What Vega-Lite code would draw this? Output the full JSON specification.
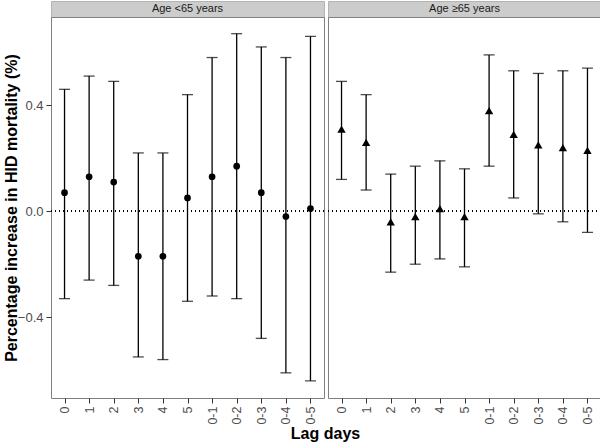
{
  "$schema": "https://vega.github.io/schema/vega-lite/v6.json",
  "padding": {"left": 2, "top": 0, "right": 2, "bottom": 2},
  "data": {"values": [
      {"panel": "Age <65 years", "lag": "0", "est": 0.07, "lower": -0.33, "upper": 0.46},
      {"panel": "Age <65 years", "lag": "1", "est": 0.13, "lower": -0.26, "upper": 0.51},
      {"panel": "Age <65 years", "lag": "2", "est": 0.11, "lower": -0.28, "upper": 0.49},
      {"panel": "Age <65 years", "lag": "3", "est": -0.17, "lower": -0.55, "upper": 0.22},
      {"panel": "Age <65 years", "lag": "4", "est": -0.17, "lower": -0.56, "upper": 0.22},
      {"panel": "Age <65 years", "lag": "5", "est": 0.05, "lower": -0.34, "upper": 0.44},
      {"panel": "Age <65 years", "lag": "0-1", "est": 0.13, "lower": -0.32, "upper": 0.58},
      {"panel": "Age <65 years", "lag": "0-2", "est": 0.17, "lower": -0.33, "upper": 0.67},
      {"panel": "Age <65 years", "lag": "0-3", "est": 0.07, "lower": -0.48, "upper": 0.62},
      {"panel": "Age <65 years", "lag": "0-4", "est": -0.02, "lower": -0.61, "upper": 0.58},
      {"panel": "Age <65 years", "lag": "0-5", "est": 0.01, "lower": -0.64, "upper": 0.66},
      {"panel": "Age ≥65 years", "lag": "0", "est": 0.31, "lower": 0.12, "upper": 0.49},
      {"panel": "Age ≥65 years", "lag": "1", "est": 0.26, "lower": 0.08, "upper": 0.44},
      {"panel": "Age ≥65 years", "lag": "2", "est": -0.04, "lower": -0.23, "upper": 0.14},
      {"panel": "Age ≥65 years", "lag": "3", "est": -0.02, "lower": -0.2, "upper": 0.17},
      {"panel": "Age ≥65 years", "lag": "4", "est": 0.01, "lower": -0.18, "upper": 0.19},
      {"panel": "Age ≥65 years", "lag": "5", "est": -0.02, "lower": -0.21, "upper": 0.16},
      {"panel": "Age ≥65 years", "lag": "0-1", "est": 0.38, "lower": 0.17, "upper": 0.59},
      {"panel": "Age ≥65 years", "lag": "0-2", "est": 0.29, "lower": 0.05, "upper": 0.53},
      {"panel": "Age ≥65 years", "lag": "0-3", "est": 0.25, "lower": -0.01, "upper": 0.52},
      {"panel": "Age ≥65 years", "lag": "0-4", "est": 0.24, "lower": -0.04, "upper": 0.53},
      {"panel": "Age ≥65 years", "lag": "0-5", "est": 0.23, "lower": -0.08, "upper": 0.54}
  ]},
  "columns": 2,
  "bounds": "flush",
  "spacing": {"row": 0, "column": 4},
  "concat": [
    {
      "width": 273, "height": 16,
      "transform": [{"filter": "datum.panel == 'Age <65 years'"}, {"aggregate": [{"op": "count", "as": "n"}], "groupby": ["panel"]}],
      "view": {"fill": "#cccccc", "stroke": "#b3b3b3"},
      "mark": {"type": "text", "fontSize": 11, "color": "#1a1a1a", "baseline": "middle"},
      "encoding": {"text": {"field": "panel", "type": "nominal"}}
    },
    {
      "width": 273, "height": 16,
      "transform": [{"filter": "datum.panel == 'Age ≥65 years'"}, {"aggregate": [{"op": "count", "as": "n"}], "groupby": ["panel"]}],
      "view": {"fill": "#cccccc", "stroke": "#b3b3b3"},
      "mark": {"type": "text", "fontSize": 11, "color": "#1a1a1a", "baseline": "middle"},
      "encoding": {"text": {"field": "panel", "type": "nominal"}}
    },
    {
      "width": 273, "height": 381,
      "transform": [{"filter": "datum.panel == 'Age <65 years'"}],
      "layer": [
        {
          "mark": {"type": "rule", "color": "black", "strokeWidth": 1.3},
          "encoding": {
            "x": {"field": "lag", "type": "ordinal", "sort": ["0","1","2","3","4","5","0-1","0-2","0-3","0-4","0-5"], "scale": {"type": "point", "padding": 0.55},
              "axis": {"title": "Lag days", "titleX": 274, "titleY": 40, "titleBaseline": "alphabetic", "labelAngle": -90}},
            "y": {"field": "lower", "type": "quantitative", "scale": {"domain": [-0.705, 0.733], "nice": false, "zero": false},
              "axis": {"title": "Percentage increase in HID mortality (%)", "values": [-0.4, 0, 0.4], "format": ".1f", "titleX": -35, "titleBaseline": "alphabetic"}},
            "y2": {"field": "upper"}
          }
        },
        {
          "mark": {"type": "rule", "color": "black", "strokeDash": [1, 3], "strokeWidth": 1},
          "encoding": {"y": {"datum": 0, "type": "quantitative",
            "axis": {"title": "Percentage increase in HID mortality (%)", "values": [-0.4, 0, 0.4], "format": ".1f", "titleX": -35, "titleBaseline": "alphabetic"}}}
        },
        {
          "mark": {"type": "tick", "orient": "horizontal", "color": "black", "size": 11, "thickness": 1.3},
          "encoding": {
            "x": {"field": "lag", "type": "ordinal", "sort": ["0","1","2","3","4","5","0-1","0-2","0-3","0-4","0-5"]},
            "y": {"field": "upper", "type": "quantitative"}
          }
        },
        {
          "mark": {"type": "tick", "orient": "horizontal", "color": "black", "size": 11, "thickness": 1.3},
          "encoding": {
            "x": {"field": "lag", "type": "ordinal", "sort": ["0","1","2","3","4","5","0-1","0-2","0-3","0-4","0-5"]},
            "y": {"field": "lower", "type": "quantitative"}
          }
        },
        {
          "mark": {"type": "point", "shape": "circle", "filled": true, "color": "black", "size": 45, "opacity": 1},
          "encoding": {
            "x": {"field": "lag", "type": "ordinal", "sort": ["0","1","2","3","4","5","0-1","0-2","0-3","0-4","0-5"]},
            "y": {"field": "est", "type": "quantitative"}
          }
        }
      ]
    },
    {
      "width": 273, "height": 381,
      "transform": [{"filter": "datum.panel == 'Age ≥65 years'"}],
      "layer": [
        {
          "mark": {"type": "rule", "color": "black", "strokeWidth": 1.3},
          "encoding": {
            "x": {"field": "lag", "type": "ordinal", "sort": ["0","1","2","3","4","5","0-1","0-2","0-3","0-4","0-5"], "scale": {"type": "point", "padding": 0.55},
              "axis": {"title": null, "labelAngle": -90}},
            "y": {"field": "lower", "type": "quantitative", "scale": {"domain": [-0.705, 0.733], "nice": false, "zero": false}, "axis": null},
            "y2": {"field": "upper"}
          }
        },
        {
          "mark": {"type": "rule", "color": "black", "strokeDash": [1, 3], "strokeWidth": 1},
          "encoding": {"y": {"datum": 0, "type": "quantitative", "axis": null}}
        },
        {
          "mark": {"type": "tick", "orient": "horizontal", "color": "black", "size": 11, "thickness": 1.3},
          "encoding": {
            "x": {"field": "lag", "type": "ordinal", "sort": ["0","1","2","3","4","5","0-1","0-2","0-3","0-4","0-5"]},
            "y": {"field": "upper", "type": "quantitative", "axis": null}
          }
        },
        {
          "mark": {"type": "tick", "orient": "horizontal", "color": "black", "size": 11, "thickness": 1.3},
          "encoding": {
            "x": {"field": "lag", "type": "ordinal", "sort": ["0","1","2","3","4","5","0-1","0-2","0-3","0-4","0-5"]},
            "y": {"field": "lower", "type": "quantitative", "axis": null}
          }
        },
        {
          "mark": {"type": "point", "shape": "triangle-up", "filled": true, "color": "black", "size": 70, "opacity": 1},
          "encoding": {
            "x": {"field": "lag", "type": "ordinal", "sort": ["0","1","2","3","4","5","0-1","0-2","0-3","0-4","0-5"]},
            "y": {"field": "est", "type": "quantitative", "axis": null}
          }
        }
      ]
    }
  ],
  "config": {
    "font": "Liberation Sans",
    "view": {"stroke": "#808080", "strokeWidth": 1},
    "axis": {
      "grid": false,
      "domain": false,
      "tickColor": "#333333",
      "tickSize": 5,
      "labelColor": "#4d4d4d",
      "labelFontSize": 12.5,
      "labelPadding": 3,
      "titleFontSize": 16,
      "titleFontWeight": "bold",
      "titleColor": "black"
    },
    "axisY": {"labelFontSize": 13}
  }
}
